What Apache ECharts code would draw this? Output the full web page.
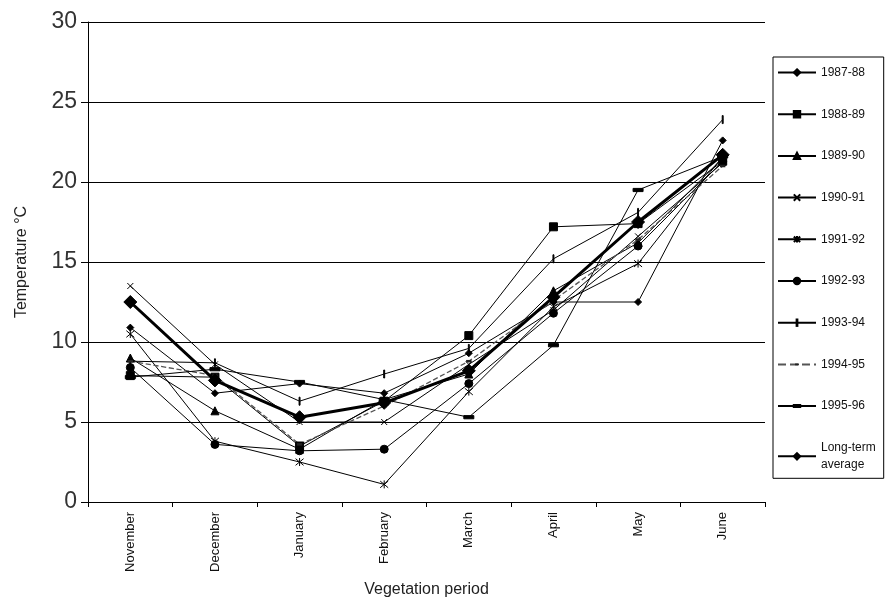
<!DOCTYPE html>
<html>
<head>
<meta charset="utf-8">
<script src="https://cdn.jsdelivr.net/npm/echarts@6/dist/echarts.min.js"></script>
<style>html,body{margin:0;padding:0;background:#fff}#c{width:885px;height:608px}</style>
</head>
<body>
<div id="c"></div>
<script>
var categories = ['November','December','January','February','March','April','May','June'];
var yTicks = [0, 5, 10, 15, 20, 25, 30];
var names = ['1987-88','1988-89','1989-90','1990-91','1991-92','1992-93','1993-94','1994-95','1995-96','Long-term average'];
var s8788 = [10.9, 6.8, 7.4, 6.8, 9.3, 12.5, 12.5, 22.6];
var s8889 = [7.9, 7.8, 3.5, 6.3, 10.4, 17.2, 17.4, 21.3];
var s8990 = [9.0, 5.7, 3.3, 6.4, 8.0, 13.2, 16.2, 21.5];
var s9091 = [13.5, 8.6, 5.0, 5.0, 8.6, 12.0, 16.6, 21.2];
var s9192 = [10.5, 3.8, 2.5, 1.1, 6.9, 12.2, 14.9, 21.6];
var s9293 = [8.4, 3.6, 3.2, 3.3, 7.4, 11.8, 16.0, 21.3];
var s9394 = [8.8, 8.7, 6.3, 8.0, 9.6, 15.2, 18.1, 23.9];
var s9495 = [8.8, 7.9, 3.6, 6.0, 8.8, 12.6, 16.4, 21.0];
var s9596 = [7.8, 8.3, 7.5, 6.4, 5.3, 9.8, 19.5, 21.6];
var avg   = [12.5, 7.6, 5.3, 6.2, 8.2, 12.8, 17.5, 21.7];

var FONT = '"Liberation Sans", Arial, sans-serif';
var xMark = 'path://M0,0L10,10M10,0L0,10';
var astMark = 'path://M0,0L10,10M10,0L0,10M5,-1L5,11';
var plusMark = 'path://M0,0M10,10M4.4,0L5.6,0L5.6,10L4.4,10Z';
var smallDash = 'path://M0,0M10,10M2,3.6L8,3.6L8,6.4L2,6.4Z';
var bigDash = 'path://M0,0M10,10M0,3.4L10,3.4L10,6.6L0,6.6Z';

function mk(name, data, symbol, size, extra) {
  var s = {
    name: name, type: 'line', data: data,
    symbol: symbol, symbolSize: size,
    lineStyle: { color: '#000', width: 1 },
    itemStyle: { color: '#000', borderColor: '#000', borderWidth: 1 },
    emphasis: { disabled: true },
    animation: false, z: 2
  };
  if (extra) { for (var k in extra) s[k] = extra[k]; }
  return s;
}

var series = [
  mk(names[0], s8788, 'diamond', 7),
  mk(names[1], s8889, 'rect', 8),
  mk(names[2], s8990, 'triangle', 8),
  mk(names[3], s9091, xMark, 6),
  mk(names[4], s9192, astMark, 8),
  mk(names[5], s9293, 'circle', 8),
  mk(names[6], s9394, plusMark, 8),
  mk(names[7], s9495, smallDash, 9, { lineStyle: { color: '#555', width: 1.3, type: 'dashed' }, itemStyle: { color: '#222', borderColor: '#222', borderWidth: 0 } }),
  mk(names[8], s9596, bigDash, 10),
  mk(names[9], avg, 'diamond', 13, { lineStyle: { color: '#000', width: 3 }, z: 5 })
];

var chart = echarts.init(document.getElementById('c'), null, { renderer: 'canvas' });
chart.setOption({
  backgroundColor: '#fff',
  animation: false,
  textStyle: { fontFamily: FONT },
  grid: { left: 88, right: 120, top: 22, bottom: 106 },
  legend: {
    type: 'plain',
    orient: 'vertical', left: 773, top: 57,
    padding: [7, 8, 5, 4],
    borderColor: '#000', borderWidth: 1,
    itemWidth: 38, itemHeight: 8, itemGap: 24.7,
    data: names,
    formatter: function (n) { return n === 'Long-term average' ? 'Long-term\naverage' : n; },
    textStyle: { fontFamily: FONT, fontSize: 12, lineHeight: 17, color: '#111' }
  },
  xAxis: {
    type: 'category', data: categories, boundaryGap: true,
    name: 'Vegetation period', nameLocation: 'middle', nameGap: 80,
    nameTextStyle: { fontFamily: FONT, fontSize: 16, color: '#222' },
    axisLine: { lineStyle: { color: '#000', width: 1 } },
    axisTick: { show: true, alignWithLabel: false, length: 5, lineStyle: { color: '#000' } },
    axisLabel: { rotate: 90, fontFamily: FONT, fontSize: 13, color: '#111', margin: 10 },
    splitLine: { show: false }
  },
  yAxis: {
    type: 'value', min: 0, max: 30, interval: 5,
    name: 'Temperature °C', nameLocation: 'middle', nameGap: 58, nameRotate: 90,
    nameTextStyle: { fontFamily: FONT, fontSize: 16, color: '#222' },
    axisLine: { show: true, lineStyle: { color: '#000', width: 1 } },
    axisTick: { show: true, length: 7, lineStyle: { color: '#000' } },
    axisLabel: {
      fontFamily: FONT, fontSize: 23, color: '#333', margin: 11,
      formatter: function (v) { return yTicks.indexOf(v) >= 0 ? String(v) : ''; }
    },
    splitLine: { show: true, lineStyle: { color: '#000', width: 1.2 } }
  },
  series: series
});
</script>
</body>
</html>
